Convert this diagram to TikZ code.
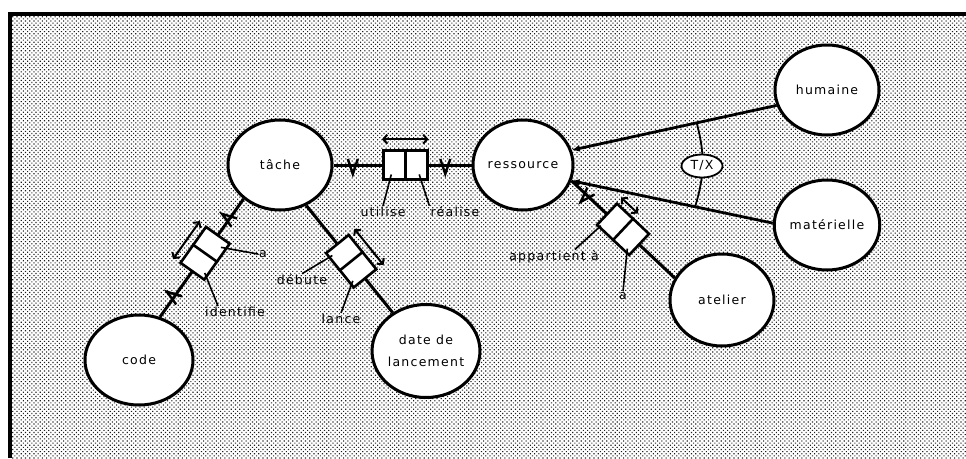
\documentclass[tikz,border=0pt]{standalone}
\usepackage{fontspec}
\setmainfont{DejaVu Sans}[LetterSpace=10]
\usetikzlibrary{shapes.geometric,arrows.meta,calc,patterns.meta,decorations.markings}
\definecolor{dotInk}{HTML}{202020}

\begin{document}
\begin{tikzpicture}[x=1pt,y=-1pt,font=\fontsize{12.5}{22}\selectfont,
    entity/.style={ellipse,draw,line width=3pt,fill=white,inner sep=0pt,
                   minimum width=104pt,minimum height=90pt,align=center},
    link/.style={line width=3pt},
    relbox/.style={rectangle,draw,line width=2.6pt,fill=white,inner sep=0pt,
                   minimum width=44pt,minimum height=29pt,sloped},
    leader/.style={line width=1.6pt},
    sens/.style={line width=2pt,
                 {Straight Barb[length=4pt,width=9pt]}-{Straight Barb[length=4pt,width=9pt]}},
    isa/.style={line width=2.8pt,-{Latex[length=8pt,width=7pt]}},
    card/.style={postaction={decorate,decoration={markings,
                 mark=at position #1 with {\draw[line width=2.4pt] (-5pt,6pt) -- (0pt,-9pt) -- (5pt,6pt);}}}},
    lbl/.style={inner sep=1pt}]
    \useasboundingbox (0,0) rectangle (966,458);
    % dotted paper and frame
    \fill[pattern={Dots[radius=0.8pt,distance=3pt,angle=45]},pattern color=dotInk]
      (10,14) rectangle (966,458);
    \draw[line width=4pt] (10,458) -- (10,14) -- (966,14);

    % entities
    \node[entity] (tache) at (280,165) {tâche};
    \node[entity,minimum width=100pt] (ressource) at (523,165) {ressource};
    \node[entity,minimum width=108pt] (code) at (139,360) {code};
    \node[entity,minimum height=93pt] (date) at (426,351) {date de\\lancement};
    \node[entity] (humaine) at (827,90) {humaine};
    \node[entity] (materielle) at (827,225) {matérielle};
    \node[entity,minimum height=92pt] (atelier) at (722,300) {atelier};

    % relations
    \draw[link,card=0.14,card=0.81] (tache.east) -- node[relbox,pos=0.52] (tr) {} (ressource.west);
    \draw[link,card=0.17,card=0.83] (tache.223) -- node[relbox,pos=0.46] (tc) {} (code.64);
    \draw[link] (tache.-57) -- node[relbox,pos=0.52] (td) {} (date.131);
    \draw[link,card=0.15] (ressource.-18) -- node[relbox,pos=0.5] (ra) {} (atelier.155);
    \foreach \r in {tr,tc,td,ra}
      \draw[line width=2.6pt] (\r.north) -- (\r.south);

    % reading directions
    \draw[sens] ($(tr.north west)!-10pt!(tr.south west)$) -- ($(tr.north east)!-10pt!(tr.south east)$);
    \draw[sens] ($(tc.north west)!-7pt!(tc.south west)$) -- ($(tc.north east)!-7pt!(tc.south east)$);
    \draw[sens] ($(td.north west)!-7pt!(td.south west)$) -- ($(td.north east)!-7pt!(td.south east)$);
    \draw[sens] ($(ra.north west)!-6pt!(ra.south west)$) -- ($(ra.north)!-6pt!(ra.south)$);

    % role labels
    \node[lbl] (utilise) at (383,212) {utilise};
    \node[lbl] (realise) at (455,212) {réalise};
    \node[lbl] (a1) at (263,254) {a};
    \node[lbl] (identifie) at (235,312) {identifie};
    \node[lbl] (debute) at (302,280) {débute};
    \node[lbl] (lance) at (341,319) {lance};
    \node[lbl] (appartient) at (554,257) {appartient à};
    \node[lbl] (a2) at (623,296) {a};
    \draw[leader] (utilise.north) -- ($(tr.center)!0.6!(tr.south west)$);
    \draw[leader] (realise.north west) -- ($(tr.center)!0.6!(tr.south east)$);
    \draw[leader] (a1.west) -- ($(tc.center)!0.6!(tc.south east)$);
    \draw[leader] ([xshift=-17pt]identifie.north) -- ($(tc.center)!0.7!(tc.south west)$);
    \draw[leader] (debute.north) -- ($(td.center)!0.7!(td.south west)$);
    \draw[leader] (lance.north) -- ($(td.center)!0.7!(td.south east)$);
    \draw[leader] ([xshift=-25pt]appartient.north east) -- ($(ra.center)!0.8!(ra.south west)$);
    \draw[leader] (a2.north) -- ($(ra.center)!0.7!(ra.south east)$);

    % specialisation
    \draw[isa] (humaine.197) -- (ressource.17);
    \draw[isa] (materielle.178) -- (ressource.-18);
    \coordinate (gh) at ($(humaine.197)!0.39!(ressource.17)$);
    \coordinate (gm) at ($(materielle.178)!0.386!(ressource.-18)$);
    \draw[line width=1.8pt] (gh) to[bend left=16] (gm);
    \node[ellipse,draw,line width=1.8pt,fill=white,inner sep=0pt,
          minimum width=41pt,minimum height=23pt] (tx) at (702,166) {T/X};
\end{tikzpicture}
\end{document}
